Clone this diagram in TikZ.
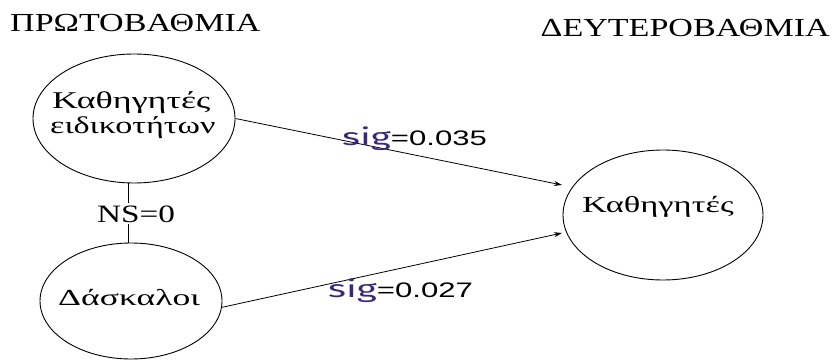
\documentclass[tikz,border=0pt]{standalone}
\usepackage{fontspec}
\setmainfont{Liberation Serif}
\newfontfamily\numfont{Liberation Sans}
\newfontfamily\handfont{Fira Sans}
\usetikzlibrary{shapes.geometric,arrows.meta}
\definecolor{sigcol}{RGB}{58,40,120}
\newcommand{\wc}[1]{\scalebox{1.31}[1]{#1}}
\newcommand{\wg}[1]{\scalebox{1.5}[1]{#1}}
\newcommand{\siglab}[1]{{\handfont\color{sigcol}\fontsize{24}{26}\selectfont\scalebox{1.6}[1]{sig}}{\numfont\fontsize{21}{24}\selectfont\scalebox{1.48}[1]{=#1}}}
\tikzset{
  oval/.style={draw, ellipse, inner sep=0pt, line width=0.9pt},
  ovaltext/.style={inner sep=0pt, anchor=base west},
  title/.style={font=\fontsize{26}{30}\selectfont, inner sep=0pt},
  conn/.style={line width=0.8pt},
  arr/.style={line width=0.8pt, -{Stealth[length=8pt,width=5pt]}},
  siglabel/.style={inner sep=0pt, anchor=base west}
}
\begin{document}
\begin{tikzpicture}[x=1pt,y=-1pt]
\useasboundingbox (0,0) rectangle (836,361);
\node[title, anchor=base west] (t1) at (10,32) {\wc{ΠΡΩΤΟΒΑΘΜΙΑ}};
\node[title, anchor=base east] (t2) at (830,37) {\wc{ΔΕΥΤΕΡΟΒΑΘΜΙΑ}};
\node[oval, minimum width=202pt, minimum height=129pt] (e1) at (134,118.5) {};
\node[oval, minimum width=182pt, minimum height=116pt] (e2) at (131,301) {};
\node[oval, minimum width=200pt, minimum height=130pt] (e3) at (663,215) {};
\node[ovaltext, font=\fontsize{24}{28}\selectfont] (e1a) at (52,108) {\wg{Καθηγητές}};
\node[ovaltext, font=\fontsize{24}{28}\selectfont] (e1b) at (50,133) {\scalebox{1.42}[1]{ειδικοτήτων}};
\node[ovaltext, font=\fontsize{23}{28}\selectfont] (e2t) at (58,305) {\scalebox{1.55}[1]{Δάσκαλοι}};
\node[ovaltext, font=\fontsize{23}{28}\selectfont] (e3t) at (582,212) {\wg{Καθηγητές}};
\node[font=\fontsize{25}{28}\selectfont, inner sep=2pt, anchor=base west] (ns) at (95,222) {\scalebox{1.33}[1]{NS=0}};
\coordinate (n1) at (128,213);
\draw[conn] (n1 |- ns.north) -- (n1 |- e1.south);
\draw[conn] (n1 |- ns.south) -- (n1 |- e2.north);
\coordinate (p1) at (562,185);
\coordinate (p2) at (562,233);
\draw[arr] (e1.east) -- (p1);
\draw[arr] (e2.-4) -- (p2);
\node[siglabel] (l1) at (342,145) {\siglab{0.035}};
\node[siglabel] (l2) at (328,297) {\siglab{0.027}};
\end{tikzpicture}
\end{document}
